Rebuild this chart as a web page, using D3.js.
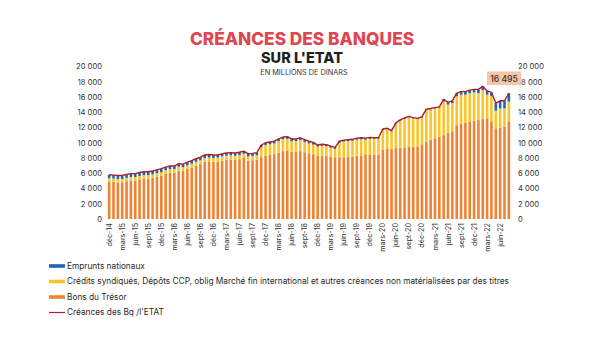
<!DOCTYPE html>
<html>
<head>
<meta charset="utf-8">
<script src="https://cdn.jsdelivr.net/npm/d3@7"></script>
<style>
  html, body { margin: 0; padding: 0; background: #fff; }
  svg { display: block; font-family: Inter, "Noto Sans", sans-serif; }
</style>
</head>
<body>
<svg id="chart" width="600" height="343"></svg>
<script>
const months = ["déc-14",
"janv-15","févr-15","mars-15","avr-15","mai-15","juin-15","juil-15","août-15","sept-15","oct-15","nov-15","déc-15",
"janv-16","févr-16","mars-16","avr-16","mai-16","juin-16","juil-16","août-16","sept-16","oct-16","nov-16","déc-16",
"janv-17","févr-17","mars-17","avr-17","mai-17","juin-17","juil-17","août-17","sept-17","oct-17","nov-17","déc-17",
"janv-18","févr-18","mars-18","avr-18","mai-18","juin-18","juil-18","août-18","sept-18","oct-18","nov-18","déc-18",
"janv-19","févr-19","mars-19","avr-19","mai-19","juin-19","juil-19","août-19","sept-19","oct-19","nov-19","déc-19",
"janv-20","févr-20","mars-20","avr-20","mai-20","juin-20","juil-20","août-20","sept-20","oct-20","nov-20","déc-20",
"janv-21","févr-21","mars-21","avr-21","mai-21","juin-21","juil-21","août-21","sept-21","oct-21","nov-21","déc-21",
"janv-22","févr-22","mars-22","avr-22","mai-22","juin-22","juil-22","août-22"];

const xTickLabels = ["déc-14","mars-15","juin-15","sept-15","déc-15","mars-16","juin-16","sept-16","déc-16",
"mars-17","juin-17","sept-17","déc-17","mars-18","juin-18","sept-18","déc-18","mars-19","juin-19","sept-19","déc-19",
"mars-20","juin-20","sept-20","déc-20","mars-21","juin-21","sept-21","déc-21","mars-22","juin-22"];

const yTicks = [0,2000,4000,6000,8000,10000,12000,14000,16000,18000,20000];

// Bons du Trésor
const bons = [4900,4850,4800,4800,4950,5050,5050,5200,5300,5300,
5400,5550,5700,5900,6050,6050,6350,6300,6550,6750,
7000,7200,7500,7550,7500,7500,7650,7750,7800,7750,
7850,8000,7650,7700,7800,8100,8300,8400,8500,8700,
8900,9000,8800,8850,8900,8750,8600,8500,8300,8300,
8250,8150,8100,8100,8100,8150,8150,8300,8350,8400,
8450,8450,8450,9100,9200,9200,9300,9350,9400,9450,
9500,9500,9800,10100,10400,10600,10800,11000,11300,11500,
12300,12500,12600,12800,12900,13000,13100,13200,12800,11900,
12000,12100,12800];

// Crédits syndiqués, Dépôts CCP, ...
const credits = [450,450,450,450,450,450,450,450,450,450,
450,450,450,500,500,500,500,500,500,500,
500,500,500,500,500,550,550,550,550,550,
550,550,550,550,550,1300,1400,1400,1400,1500,
1550,1500,1400,1350,1450,1350,1300,1250,1200,1300,
1300,1200,1100,1900,2050,2050,2100,2100,2100,2000,
2050,2100,2100,2600,2600,2300,3200,3550,3750,3900,
3700,3600,3500,4200,4000,3900,3800,4400,3700,3700,
3800,3800,3700,3700,3700,3500,3800,3100,3300,2300,
2500,2400,2595];

// Emprunts nationaux
const emprunts = [450,450,450,450,450,450,450,450,450,450,
450,450,450,400,400,400,400,400,400,400,
400,400,400,400,400,350,350,350,350,350,
350,350,350,350,350,300,300,300,300,300,
300,300,300,300,300,300,300,300,200,200,
200,200,200,200,200,200,200,200,200,200,
200,100,100,100,100,100,100,100,100,100,
100,100,100,100,100,100,100,300,300,300,
400,400,400,400,400,500,500,500,500,1000,
1000,1000,1100];

const seriesKeys = ["bons","credits","emprunts"];
const seriesNames = {
  emprunts: "Emprunts nationaux",
  credits: "Crédits syndiqués, Dépôts CCP, oblig Marché fin international et autres créances non matérialisées par des titres",
  bons: "Bons du Trésor"
};
const lineName = "Créances des Bq /l'ETAT";
const colors = { bons: "#ee8334", credits: "#fac52b", emprunts: "#1f67b1", line: "#b01e2b" };

const rows = months.map((m, i) => ({ month: m, bons: bons[i], credits: credits[i], emprunts: emprunts[i] }));
rows.forEach(r => r.total = r.bons + r.credits + r.emprunts);

const svg = d3.select("#chart");

// Titles
svg.append("text").attr("x", 302).attr("y", 45).attr("text-anchor", "middle")
  .attr("font-size", 17.3).attr("font-weight", 800).attr("fill", "#e0464f")
  .text("CRÉANCES DES BANQUES");
svg.append("text").attr("x", 302).attr("y", 62.5).attr("text-anchor", "middle")
  .attr("font-size", 14.5).attr("font-weight", 800).attr("fill", "#1f1f1f")
  .text("SUR L'ETAT");
svg.append("text").attr("x", 304).attr("y", 74.5).attr("text-anchor", "middle")
  .attr("font-size", 7.3).attr("fill", "#333")
  .text("EN MILLIONS DE DINARS");

const x = d3.scaleBand().domain(months).range([107, 511]).paddingInner(0.4).paddingOuter(0.2);
const y = d3.scaleLinear().domain([0, 20000]).range([219, 66.5]);

const loc = d3.formatLocale({ decimal: ",", thousands: "\u00a0", grouping: [3], currency: ["", ""] });
const fmt = loc.format(",d");

// Axes
const yLeft = svg.append("g").attr("transform", "translate(102,0)")
  .call(d3.axisLeft(y).tickValues(yTicks).tickSize(0).tickPadding(0).tickFormat(fmt));
const yRight = svg.append("g").attr("transform", "translate(518,0)")
  .call(d3.axisRight(y).tickValues(yTicks).tickSize(0).tickPadding(0).tickFormat(fmt));
[yLeft, yRight].forEach(g => {
  g.select(".domain").remove();
  g.selectAll("text").attr("font-size", 7.6).attr("fill", "#333").attr("font-family", "Inter, sans-serif");
});

const xAxis = svg.append("g").attr("transform", "translate(0,223)")
  .call(d3.axisBottom(x).tickValues(xTickLabels).tickSize(0).tickPadding(0));
xAxis.select(".domain").remove();
xAxis.selectAll("text")
  .attr("font-size", 7.2).attr("fill", "#333").attr("font-family", "Inter, sans-serif")
  .attr("text-anchor", "end").attr("transform", "rotate(-90)")
  .attr("x", 0).attr("y", 0).attr("dy", "0.35em").attr("dx", 0);

// Stacked bars
const stack = d3.stack().keys(seriesKeys)(rows);
svg.append("g").selectAll("g").data(stack).join("g")
  .attr("fill", d => colors[d.key])
  .selectAll("rect").data(d => d).join("rect")
  .attr("x", d => x(d.data.month))
  .attr("width", x.bandwidth())
  .attr("y", d => y(d[1]))
  .attr("height", d => y(d[0]) - y(d[1]));

// Total line
const line = d3.line().x(d => x(d.month) + x.bandwidth() / 2).y(d => y(d.total));
svg.append("path").datum(rows).attr("d", line)
  .attr("fill", "none").attr("stroke", colors.line).attr("stroke-width", 1.4).attr("stroke-linejoin", "round");

// Annotation of last value
const last = rows[rows.length - 1];
const ann = svg.append("g");
ann.append("rect").attr("x", 487).attr("y", 71.5).attr("width", 34).attr("height", 13.5).attr("fill", "#f6c6a6");
ann.append("text").attr("x", 504).attr("y", 81.5).attr("text-anchor", "middle")
  .attr("font-size", 8.6).attr("font-weight", 500).attr("fill", "#333").text(fmt(last.total));

// Legend
const legendItems = [
  { key: "emprunts", type: "rect" },
  { key: "credits", type: "rect" },
  { key: "bons", type: "rect" },
  { key: "line", type: "line" }
];
const lg = svg.append("g").attr("transform", "translate(49,266)");
legendItems.forEach((it, i) => {
  const g = lg.append("g").attr("transform", `translate(0,${i * 15.5})`);
  if (it.type === "rect") {
    g.append("rect").attr("x", 0).attr("y", -1.8).attr("width", 16).attr("height", 3.6).attr("fill", colors[it.key]);
  } else {
    g.append("line").attr("x1", 0).attr("x2", 16).attr("y1", 0).attr("y2", 0)
      .attr("stroke", colors.line).attr("stroke-width", 1.2);
  }
  g.append("text").attr("x", 18).attr("y", 0).attr("dy", "0.35em")
    .attr("font-size", 8.3).attr("fill", "#2a2a2a")
    .text(it.type === "rect" ? seriesNames[it.key] : lineName);
});
</script>
</body>
</html>
